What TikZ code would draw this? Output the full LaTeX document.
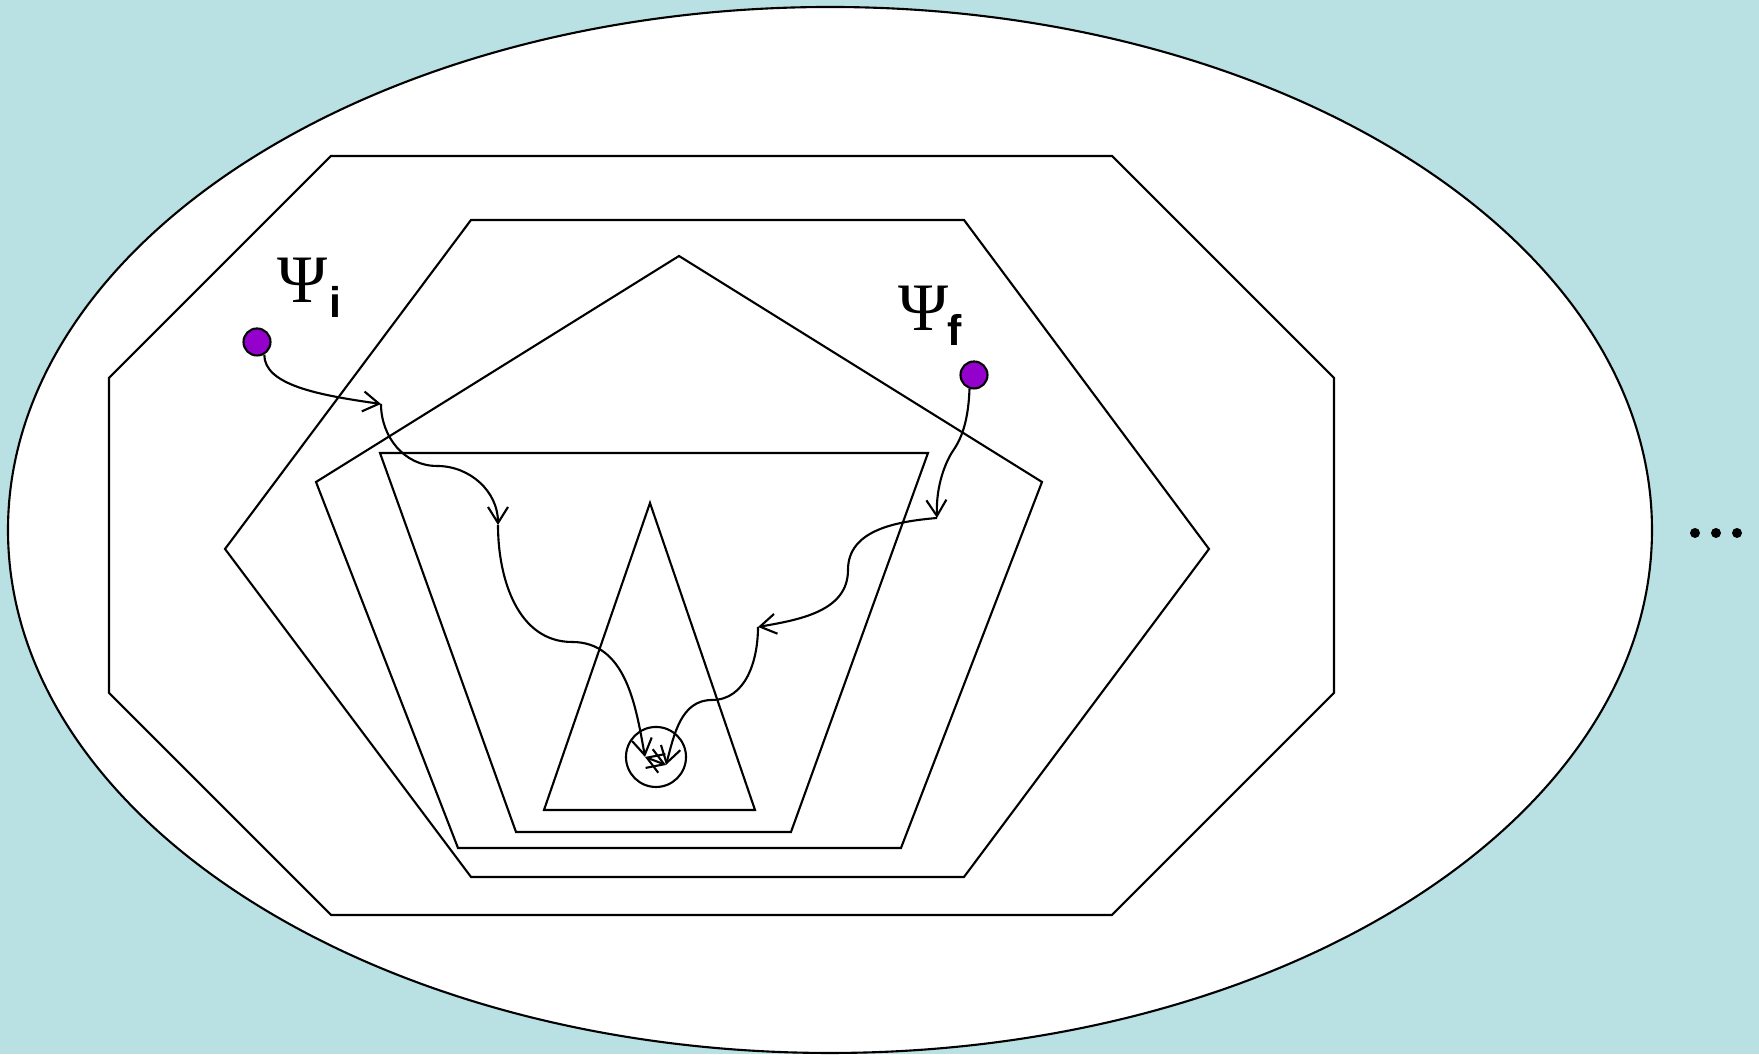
\documentclass[tikz,border=0pt]{standalone}
\usepackage{fontspec}
\newfontfamily\psifont{Liberation Serif}
\newfontfamily\subfont{Liberation Sans}
\definecolor{bgblue}{HTML}{B9E0E3}
\definecolor{dotpurple}{HTML}{9400CC}
\usepackage{tikz}
\usetikzlibrary{shapes,arrows.meta,positioning,calc}

\begin{document}
\begin{tikzpicture}[x=0.01cm, y=0.01cm, line width=0.6pt,
    >={Straight Barb[length=1.6mm, width=2mm]},
    state/.style={circle, draw, fill=dotpurple, minimum size=0.27cm, inner sep=0pt},
    hop/.style={->, line width=0.6pt},
    psilabel/.style={anchor=base west, inner sep=0pt, font=\psifont\fontsize{19.3}{23}\selectfont},
    sub/.style={anchor=base west, inner sep=0pt, font=\subfont\bfseries\fontsize{12.2}{14}\selectfont}]
  \fill[bgblue] (0,0) rectangle (1759,1054);
  \draw[fill=white] (830,524) ellipse [x radius=822, y radius=523];

  \draw (331,898) -- (1112,898) -- (1334,676) -- (1334,361) -- (1112,139) -- (331,139) -- (109,361) -- (109,676) -- cycle;
  \draw (471,834) -- (964,834) -- (1209,505) -- (964,177) -- (471,177) -- (225,505) -- cycle;
  \draw (679,798) -- (1042,572) -- (901,206) -- (458,206) -- (316,572) -- cycle;
  \draw (380,601) -- (928,601) -- (791,222) -- (516,222) -- cycle;
  \draw (650,551) -- (755,244) -- (544,244) -- cycle;
  \node[circle, draw, minimum size=0.6cm, inner sep=0pt] (sink) at (656,297) {};

  \node[state] (psii) at (257,712) {};
  \node[state] (psif) at (974,679) {};
  \node[psilabel] (lbli) at (276,751) {Ψ};
  \node[sub] (subi) at (328,736) {i};
  \node[psilabel] (lblf) at (897,723) {Ψ};
  \node[sub] (subf) at (946,708) {f};

  \coordinate (a1) at (381,650);
  \coordinate (w1) at (437,588);
  \coordinate (a2) at (498,529);
  \coordinate (w2) at (572,412);
  \coordinate (e1) at (645,297);
  \coordinate (w3) at (951,600);
  \coordinate (b1) at (937,536);
  \coordinate (w4) at (848,484);
  \coordinate (b2) at (758,427);
  \coordinate (w5) at (712,354);
  \coordinate (e2) at (666,289);

  \draw[hop] (psii.-60) to[out=-90, in=172, out distance=0.3cm, in distance=0.65cm] (a1);
  \draw[hop] (a1) to[out=-90, in=180] (w1) to[out=0, in=90] (a2);
  \draw[hop] (a2) to[out=-90, in=180] (w2) to[out=0, in=100] (e1);
  \draw[hop] (psif.-108) to[out=-92, in=60, out distance=0.45cm, in distance=0.08cm] (w3)
    to[out=240, in=92, out distance=0.08cm, in distance=0.35cm] (b1);
  \draw[hop] (b1) to[out=185, in=90] (w4) to[out=-90, in=10] (b2);
  \draw[hop] (b2) to[out=-90, in=0] (w5) to[out=180, in=75] (e2);
  \draw[<->] (e1) -- (e2);

  \foreach \dx in {0,21,42}
    \fill (1695+\dx,521) circle [radius=5];
\end{tikzpicture}
\end{document}
